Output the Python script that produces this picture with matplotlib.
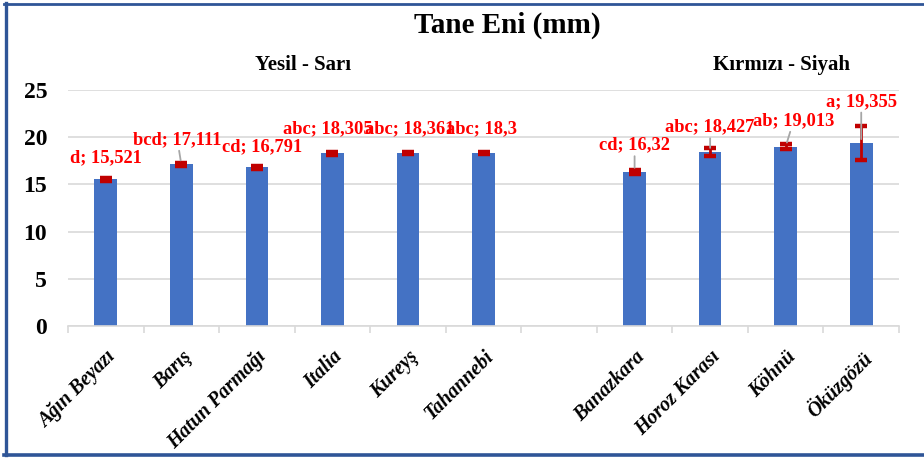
import matplotlib
matplotlib.use('Agg')
import matplotlib.pyplot as plt
from matplotlib.lines import Line2D

plt.rcParams['font.family'] = ['Liberation Serif', 'DejaVu Serif']

# cultivars (the first six are yellow-green, the last four red-black)
cultivars = ['Ağın Beyazı', 'Barış', 'Hatun Parmağı', 'Italia', 'Kureyş', 'Tahannebi',
             'Banazkara', 'Horoz Karası', 'Köhnü', 'Öküzgözü']
width_mm = [15.521, 17.111, 16.791, 18.305, 18.361, 18.3,
            16.32, 18.427, 19.013, 19.355]
std_err = [0.15, 0.15, 0.12, 0.15, 0.1, 0.12,
           0.2, 0.42, 0.25, 1.82]
letters = ['d', 'bcd', 'cd', 'abc', 'abc', 'abc',
           'cd', 'abc', 'ab', 'a']
groups = ['Yesil - Sarı', 'Kırmızı - Siyah']

# one empty slot between the two groups
positions = list(range(6)) + list(range(7, 11))

# label offsets in pixels from the bar top, and whether a leader line is drawn
label_offsets = [(0, 22), (-4, 25), (5, 21), (-5, 24), (2, 24), (-2, 25),
                 (0, 27), (0, 25), (8, 26), (0, 42)]
leaders = [False, True, False, False, False, False, True, True, True, True]

fig = plt.figure(figsize=(9.24, 4.59), dpi=100)
ax = fig.add_axes([68 / 924, 1 - 326 / 459, (899 - 68) / 924, (326 - 90) / 459])

ax.bar(positions, width_mm, width=0.3, color='#4472C4', zorder=2)
ax.errorbar(positions, width_mm, yerr=std_err, fmt='none', ecolor='#C00000',
            elinewidth=2, capsize=4.3, capthick=3.2, zorder=3)

for x, val, let, (dx, dy), lead in zip(positions, width_mm, letters, label_offsets, leaders):
    txt = f'{let}; {val:g}'.replace('.', ',')
    props = dict(arrowstyle='-', color='#A6A6A6', lw=1.3, shrinkA=0, shrinkB=3) if lead else None
    ax.annotate(txt, xy=(x, val), xytext=(dx, dy), textcoords='offset pixels',
                ha='center', va='center', fontsize=13.3, fontweight='bold',
                color='#FF0000', arrowprops=props, zorder=4, annotation_clip=False)

ax.set_xlim(-0.5, 10.5)
ax.set_ylim(0, 25)
ax.set_yticks([0, 5, 10, 15, 20, 25])
ax.grid(axis='y', color='#D9D9D9', linewidth=1.2, zorder=0)
ax.set_axisbelow(True)

ax.set_xticks(positions)
ax.set_xticklabels(cultivars, rotation=45, ha='right', va='top', rotation_mode='anchor',
                   fontsize=14.5, fontweight='bold', fontstyle='italic')
ax.set_xticks([i - 0.5 for i in range(12)], minor=True)
ax.tick_params(axis='x', which='major', length=0, pad=15)
ax.tick_params(axis='x', which='minor', length=5, color='#D9D9D9', width=1.2)
ax.tick_params(axis='y', length=0, pad=15, labelsize=17)
for lbl in ax.get_yticklabels():
    lbl.set_fontweight('bold')

for side in ['top', 'right', 'left']:
    ax.spines[side].set_visible(False)
ax.spines['bottom'].set_color('#D9D9D9')
ax.spines['bottom'].set_linewidth(1.2)

ax.text(2.61, 27.6, groups[0], ha='center', va='center', fontsize=15, fontweight='bold')
ax.text(8.94, 27.6, groups[1], ha='center', va='center', fontsize=15, fontweight='bold')

fig.text(507 / 924, 1 - 33 / 459, 'Tane Eni (mm)', ha='center', va='baseline',
         fontsize=21, fontweight='bold')

# blue frame on the left, top and bottom
frame = dict(color='#2F5597', transform=fig.transFigure)
fig.add_artist(Line2D([5.5 / 924, 5.5 / 924], [1 - 3 / 459, 1 - 455 / 459], lw=2.4, **frame))
fig.add_artist(Line2D([4 / 924, 1], [1 - 3.5 / 459, 1 - 3.5 / 459], lw=2, **frame))
fig.add_artist(Line2D([4 / 924, 1], [1 - 455 / 459, 1 - 455 / 459], lw=2.6, **frame))

fig.savefig('out.png', dpi=100)
